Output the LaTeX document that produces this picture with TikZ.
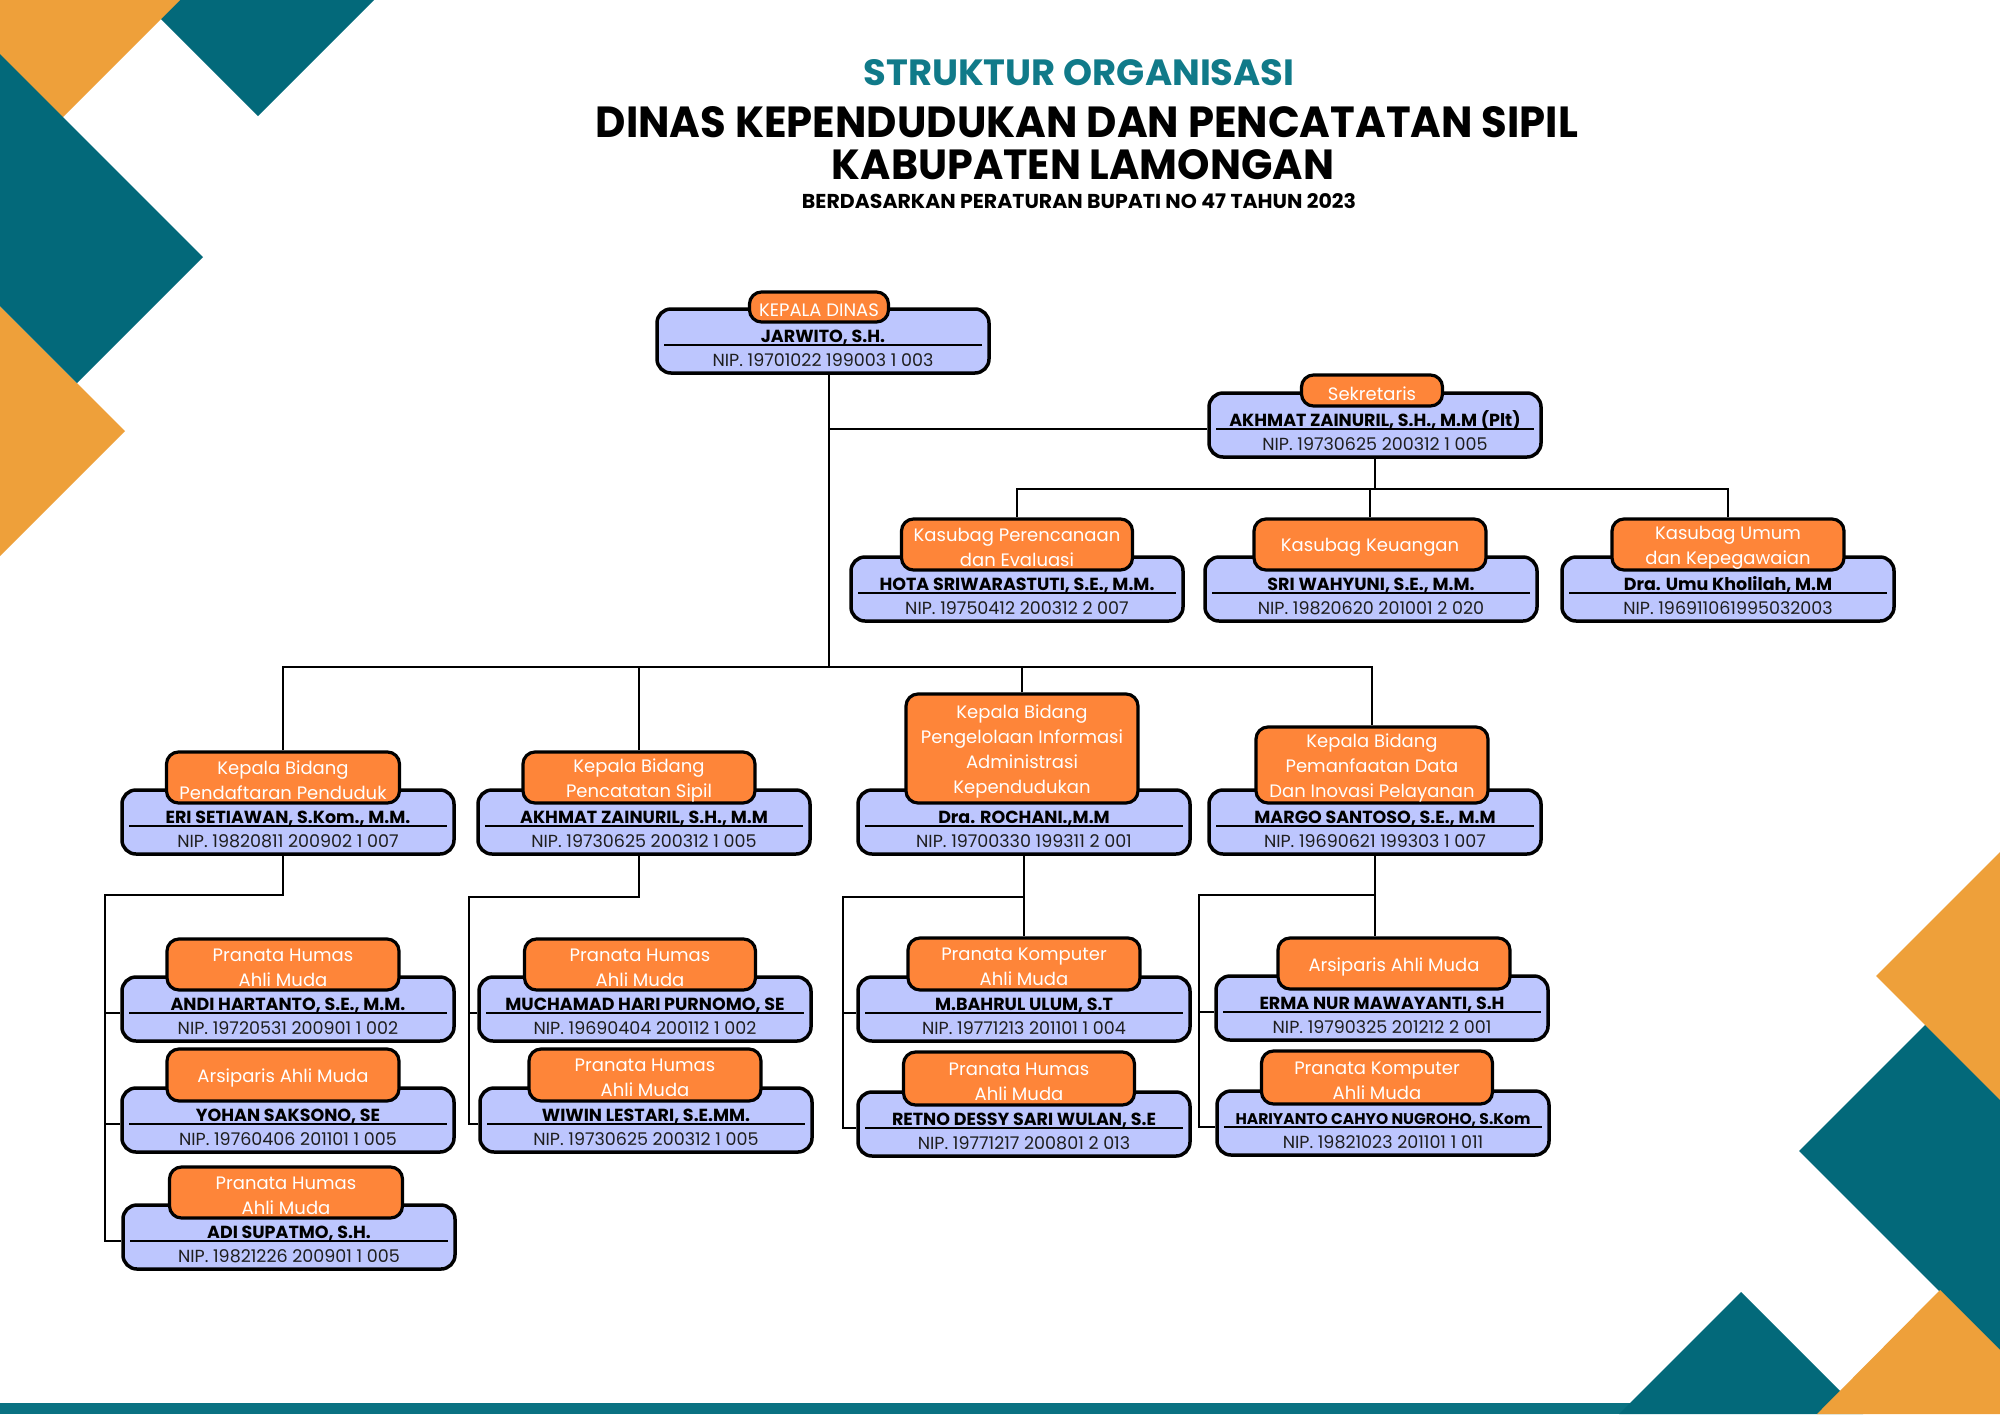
\documentclass[tikz,border=0pt]{standalone}
\usepackage{graphicx}
\usepackage{fontspec}
\setmainfont{Poppins}
\usetikzlibrary{calc}
\definecolor{decoteal}{RGB}{3,105,122}
\definecolor{decoorange}{RGB}{238,160,58}
\definecolor{titleteal}{RGB}{16,122,137}
\definecolor{barteal}{RGB}{10,114,130}
\definecolor{labelorange}{RGB}{254,133,57}
\definecolor{boxblue}{RGB}{189,198,254}
\definecolor{niptext}{RGB}{30,30,30}

\tikzset{
 bluebox/.style={draw=black, line width=3.5pt, fill=boxblue, rounded corners=14pt, minimum width=332pt, minimum height=64pt, inner sep=0pt},
 orangebox/.style={draw=black, line width=3.2pt, fill=labelorange, rounded corners=12pt, inner sep=0pt},
 labeltext/.style={inner sep=0pt, align=center, text=white, font=\fontsize{18}{24.8}\selectfont},
 nametext/.style={anchor=base, inner sep=0pt, font=\bfseries\fontsize{17.5}{20}\selectfont},
 nipline/.style={anchor=base, inner sep=0pt, text=niptext, font=\fontsize{17.5}{20}\selectfont},
 sepline/.style={line width=1.8pt, black},
 conn/.style={line width=1.6pt, black},
 titlenode/.style={inner sep=0pt, font=\bfseries}
}

\newcommand\orgunit[9]{%
 \node[bluebox] (#1) at (#2,{#3+32}) {};
 \coordinate (#1-sep) at ($(#1.north west)+(0,38)$);
 \draw[sepline] ($(#1.north west)+(9,38)$) -- ($(#1.north east)+(-9,38)$);
 \node[nametext] (#1-n) at (#2,{#3+33}) {#8};
 \node[nipline] (#1-p) at (#2,{#3+57}) {#9};
 \node[orangebox, minimum width=#5pt, minimum height=#6pt] (#1-o) at (#4,{#3+13-#6/2}) {};
 \node[labeltext] (#1-t) at ($(#1-o.center)+(0,3)$) {#7};
}

\begin{document}
\begin{tikzpicture}[x=1pt,y=-1pt]
\useasboundingbox (0,0) rectangle (2000,1414);
\fill[white] (0,0) rectangle (2000,1414);

% bottom bar
\fill[barteal] (0,1403) rectangle (2000,1414);

% corner decorations, top left
\fill[decoteal] (142,0) -- (374,0) -- (258,116) -- cycle;
\fill[decoorange] (0,0) -- (180,0) -- (0,180) -- cycle;
\fill[decoorange] (0,306) -- (125,431) -- (0,556) -- cycle;
\fill[decoteal] (0,54) -- (203,257) -- (77,383) -- (0,306) -- cycle;
% right
\fill[decoteal] (1799,1151) -- (2000,950) -- (2000,1352) -- cycle;
\fill[decoorange] (2000,852) -- (1876,976) -- (2000,1100) -- cycle;
\fill[decoteal] (1619,1414) -- (1741,1292) -- (1863,1414) -- cycle;
\fill[decoorange] (1817,1414) -- (1940,1290) -- (2000,1350) -- (2000,1414) -- cycle;

% titles
\node[titlenode, text=titleteal] (t1) at (1079,73) {\resizebox{431pt}{26pt}{\bfseries STRUKTUR ORGANISASI}};
\node[titlenode] (t2) at (1087,122) {\resizebox{982pt}{31pt}{\bfseries DINAS KEPENDUDUKAN DAN PENCATATAN SIPIL}};
\node[titlenode] (t3) at (1083,165) {\resizebox{502pt}{30pt}{\bfseries KABUPATEN LAMONGAN}};
\node[titlenode] (t4) at (1079,201) {\resizebox{554pt}{15pt}{\bfseries BERDASARKAN PERATURAN BUPATI NO 47 TAHUN 2023}};

% units
\orgunit{kadis}{823}{309}{819}{139}{30}{KEPALA DINAS}{JARWITO, S.H.}{NIP. 19701022 199003 1 003}
\orgunit{sekre}{1375}{393}{1372}{141}{31}{Sekretaris}{AKHMAT ZAINURIL, S.H., M.M (Plt)}{NIP. 19730625 200312 1 005}
\orgunit{kpe}{1017}{557}{1017}{231}{51}{Kasubag Perencanaan\\dan Evaluasi}{HOTA SRIWARASTUTI, S.E., M.M.}{NIP. 19750412 200312 2 007}
\orgunit{kku}{1371}{557}{1370}{232}{51}{Kasubag Keuangan}{SRI WAHYUNI, S.E., M.M.}{NIP. 19820620 201001 2 020}
\orgunit{kup}{1728}{557}{1728}{232}{51}{Kasubag Umum\\dan Kepegawaian}{Dra. Umu Kholilah, M.M}{NIP. 196911061995032003}

\orgunit{kpp}{288}{790}{283}{233}{51}{Kepala Bidang\\Pendaftaran Penduduk}{ERI SETIAWAN, S.Kom., M.M.}{NIP. 19820811 200902 1 007}
\orgunit{kps}{644}{790}{639}{232}{51}{Kepala Bidang\\Pencatatan Sipil}{AKHMAT ZAINURIL, S.H., M.M}{NIP. 19730625 200312 1 005}
\orgunit{kpiak}{1024}{790}{1022}{232}{109}{Kepala Bidang\\Pengelolaan Informasi\\Administrasi\\Kependudukan}{Dra. ROCHANI.,M.M}{NIP. 19700330 199311 2 001}
\orgunit{kpdip}{1375}{790}{1372}{232}{76}{Kepala Bidang\\Pemanfaatan Data\\Dan Inovasi Pelayanan}{MARGO SANTOSO, S.E., M.M}{NIP. 19690621 199303 1 007}

\orgunit{andi}{288}{977}{283}{232}{51}{Pranata Humas\\Ahli Muda}{ANDI HARTANTO, S.E., M.M.}{NIP. 19720531 200901 1 002}
\orgunit{yohan}{288}{1088}{283}{232}{52}{Arsiparis Ahli Muda}{YOHAN SAKSONO, SE}{NIP. 19760406 201101 1 005}
\orgunit{adi}{289}{1205}{286}{233}{51}{Pranata Humas\\Ahli Muda}{ADI SUPATMO, S.H.}{NIP. 19821226 200901 1 005}
\orgunit{much}{645}{977}{640}{231}{51}{Pranata Humas\\Ahli Muda}{MUCHAMAD HARI PURNOMO, SE}{NIP. 19690404 200112 1 002}
\orgunit{wiwin}{646}{1088}{645}{232}{52}{Pranata Humas\\Ahli Muda}{WIWIN LESTARI, S.E.MM.}{NIP. 19730625 200312 1 005}
\orgunit{bahrul}{1024}{977}{1024}{232}{52}{Pranata Komputer\\Ahli Muda}{M.BAHRUL ULUM, S.T}{NIP. 19771213 201101 1 004}
\orgunit{retno}{1024}{1092}{1019}{231}{53}{Pranata Humas\\Ahli Muda}{RETNO DESSY SARI WULAN, S.E}{NIP. 19771217 200801 2 013}
\orgunit{erma}{1382}{976}{1394}{232}{51}{Arsiparis Ahli Muda}{ERMA NUR MAWAYANTI, S.H}{NIP. 19790325 201212 2 001}
\orgunit{hari}{1383}{1091}{1377}{231}{53}{Pranata Komputer\\Ahli Muda}{{\fontsize{15.5}{18}\selectfont HARIYANTO CAHYO NUGROHO, S.Kom}}{NIP. 19821023 201101 1 011}

% connectors
\coordinate (spine) at ($(kadis.south)+(6,0)$);
\coordinate (mainbar) at (0,667);
\coordinate (subbar) at (0,489);
\draw[conn] (spine) -- (spine |- mainbar);
\draw[conn] (spine |- sekre-sep) -- (sekre-sep);
\draw[conn] (kpp-o.north) |- (kpdip-o.north |- mainbar) -- (kpdip-o.north);
\draw[conn] (kps-o.north) -- (kps-o.north |- mainbar);
\draw[conn] (kpiak-o.north) -- (kpiak-o.north |- mainbar);

\draw[conn] (sekre.south) -- (sekre.south |- subbar);
\draw[conn] (kpe-o.north) |- (kup-o.north |- subbar) -- (kup-o.north);
\draw[conn] (kku-o.north) -- (kku-o.north |- subbar);

\coordinate (jA) at (105,895);
\draw[conn] (kpp.south -| kpp-o.north) |- (jA) |- (adi-sep);
\draw[conn] (jA |- andi-sep) -- (andi-sep);
\draw[conn] (jA |- yohan-sep) -- (yohan-sep);

\coordinate (jB) at (469,897);
\draw[conn] (kps.south -| kps-o.north) |- (jB) |- (wiwin-sep);
\draw[conn] (jB |- much-sep) -- (much-sep);

\coordinate (jC) at (843,897);
\draw[conn] (kpiak.south) -- (kpiak.south |- bahrul-o.north);
\draw[conn] (kpiak.south |- jC) -- (jC) |- (retno-sep);
\draw[conn] (jC |- bahrul-sep) -- (bahrul-sep);

\coordinate (jD) at (1199,895);
\draw[conn] (kpdip.south) -- (kpdip.south |- erma-o.north);
\draw[conn] (kpdip.south |- jD) -- (jD) |- (hari-sep);
\draw[conn] (jD |- erma-sep) -- (erma-sep);
\end{tikzpicture}
\end{document}
